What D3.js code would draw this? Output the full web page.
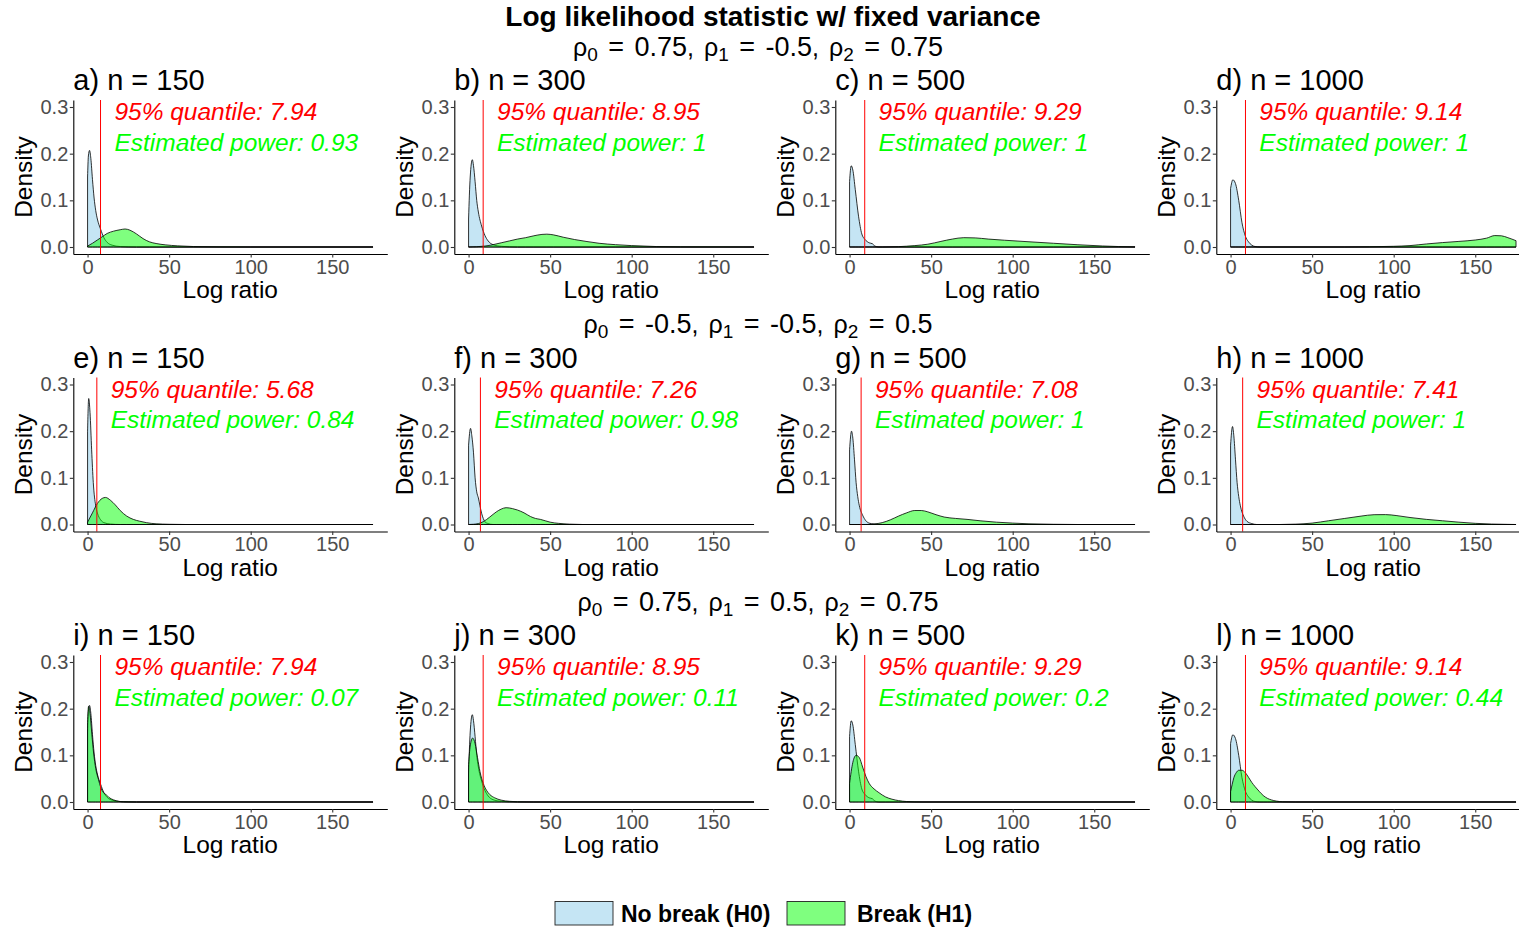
<!DOCTYPE html>
<html>
<head>
<meta charset="utf-8">
<script src="https://cdn.jsdelivr.net/npm/d3@7"></script>
<style>
  html, body { margin: 0; padding: 0; background: #ffffff; }
  svg { display: block; font-family: "Liberation Sans", Arial, Helvetica, sans-serif; }
</style>
</head>
<body>
<svg id="chart" width="1519" height="930"></svg>
<script>
// ---- Panel labels, thresholds and power estimates ----
const panelLabels = ["a) n = 150", "b) n = 300", "c) n = 500", "d) n = 1000",
                     "e) n = 150", "f) n = 300", "g) n = 500", "h) n = 1000",
                     "i) n = 150", "j) n = 300", "k) n = 500", "l) n = 1000"];
const quantiles = [7.94, 8.95, 9.29, 9.14, 5.68, 7.26, 7.08, 7.41, 7.94, 8.95, 9.29, 9.14];
const powers = [0.93, 1, 1, 1, 0.84, 0.98, 1, 1, 0.07, 0.11, 0.2, 0.44];
const rowRho = [["0.75", "-0.5", "0.75"], ["-0.5", "-0.5", "0.5"], ["0.75", "0.5", "0.75"]];
const xTicks = [0, 50, 100, 150];
const yTicks = [0, 0.1, 0.2, 0.3];
const legendLabels = ["No break (H0)", "Break (H1)"];

// ---- Density estimates: [log ratio, density] ----
// H0, rho = (0.75, -0.5, 0.75)
const h0_n150 = [[0,0.15],[0.5,0.195],[1.2,0.207],[2,0.19],[3,0.145],[4,0.105],[5,0.078],[6,0.06],[8,0.038],[10,0.02],[12,0.01],[15,0.004],[20,0.001],[30,0],[175,0]];
const h0_n300 = [[0,0.06],[1,0.15],[2.3,0.187],[3,0.175],[4,0.14],[5,0.1],[6,0.075],[8,0.045],[10,0.025],[12,0.013],[15,0.005],[20,0.0015],[30,0],[175,0]];
const h0_n500 = [[0,0.14],[1,0.174],[2,0.165],[3.5,0.123],[5.5,0.066],[7.5,0.028],[9.5,0.016],[12,0.009],[14,0.007],[15.5,0.002],[18,0],[175,0]];
const h0_n1000 = [[0,0.125],[1.4,0.144],[3,0.136],[5,0.1],[7,0.052],[9,0.024],[11,0.011],[13,0.004],[15,0.001],[18,0],[175,0]];
// H0, rho = (-0.5, -0.5, 0.5)
const h0b_n150 = [[0,0.2],[0.7,0.27],[1.5,0.24],[2.5,0.16],[3.5,0.09],[5,0.04],[6,0.025],[8,0.01],[10,0.004],[14,0.001],[20,0],[175,0]];
const h0b_n300 = [[0,0.17],[1.2,0.206],[2,0.19],[3,0.155],[4,0.1],[5,0.07],[6,0.057],[7,0.04],[8,0.024],[9,0.013],[10,0.006],[12,0.002],[15,0],[175,0]];
const h0b_n500 = [[0,0.16],[1.2,0.2],[2,0.185],[3,0.14],[4,0.09],[5,0.06],[6,0.04],[8,0.02],[10,0.008],[12,0.003],[15,0.001],[20,0],[175,0]];
const h0b_n1000 = [[0,0.17],[1.2,0.21],[2,0.19],[3,0.14],[4,0.09],[5,0.06],[6,0.04],[8,0.018],[10,0.007],[13,0.002],[16,0],[175,0]];

// H1, rho = (0.75, -0.5, 0.75)
const h1_n150 = [[0,0.002],[3,0.008],[6,0.015],[9,0.022],[12,0.029],[16,0.034],[20,0.037],[23,0.0386],[26,0.036],[30,0.028],[34,0.018],[38,0.011],[42,0.0075],[48,0.0045],[55,0.0025],[65,0.001],[80,0.0003],[100,0],[175,0]];
const h1_n300 = [[0,0],[10,0.002],[15,0.005],[20,0.009],[25,0.013],[30,0.017],[35,0.02],[40,0.024],[45,0.027],[48,0.0275],[52,0.026],[58,0.021],[65,0.016],[72,0.012],[80,0.008],[90,0.005],[100,0.003],[115,0.001],[130,0.0003],[175,0]];
const h1_n500 = [[0,0],[20,0],[30,0.0008],[40,0.003],[48,0.006],[56,0.012],[63,0.017],[70,0.02],[77,0.0195],[85,0.017],[95,0.0145],[110,0.0112],[125,0.008],[140,0.0048],[155,0.0022],[165,0.001],[175,0.0002]];
const h1_n1000 = [[0,0],[70,0],[85,0.0005],[100,0.0015],[110,0.003],[120,0.0065],[130,0.0095],[140,0.012],[150,0.015],[157,0.019],[162,0.0245],[166,0.024],[170,0.02],[175,0.0135]];
// H1, rho = (-0.5, -0.5, 0.5)
const h1b_n150 = [[0,0.005],[3,0.025],[6,0.045],[9,0.056],[11,0.058],[14,0.052],[17,0.042],[20,0.03],[24,0.018],[28,0.011],[32,0.007],[36,0.004],[42,0.0015],[50,0.0005],[60,0],[175,0]];
const h1b_n300 = [[0,0],[3,0.0005],[6,0.002],[9,0.006],[13,0.016],[17,0.027],[20,0.033],[23,0.036],[27,0.034],[30,0.031],[34,0.025],[38,0.017],[41,0.013],[44,0.011],[47,0.008],[50,0.005],[55,0.0025],[62,0.0008],[70,0],[175,0]];
const h1b_n500 = [[0,0],[10,0],[15,0.001],[20,0.004],[25,0.01],[30,0.018],[35,0.025],[40,0.03],[44,0.03],[48,0.027],[53,0.021],[58,0.016],[65,0.013],[72,0.011],[80,0.008],[90,0.005],[100,0.003],[110,0.0015],[125,0.0005],[140,0],[175,0]];
const h1b_n1000 = [[0,0],[30,0],[40,0.0008],[50,0.003],[60,0.008],[70,0.013],[80,0.018],[88,0.021],[95,0.0212],[102,0.019],[110,0.015],[120,0.011],[130,0.008],[140,0.005],[150,0.0025],[160,0.001],[170,0.0003],[175,0]];
// H1, rho = (0.75, 0.5, 0.75)
const h1c_n150 = [[0,0.17],[0.6,0.205],[1.5,0.19],[2.5,0.15],[3.7,0.105],[5,0.072],[6.7,0.048],[8,0.032],[9.8,0.02],[11,0.017],[13,0.01],[16,0.0045],[19,0.0015],[22,0.0003],[30,0],[175,0]];
const h1c_n300 = [[0,0.08],[1,0.12],[2.5,0.137],[4,0.125],[5.5,0.095],[7,0.065],[9,0.04],[11,0.025],[13,0.016],[16,0.009],[20,0.004],[25,0.0015],[30,0.0005],[40,0],[175,0]];
const h1c_n500 = [[0,0.04],[2,0.085],[4,0.1],[6,0.095],[8,0.075],[10,0.055],[12,0.04],[15,0.028],[18,0.02],[22,0.011],[26,0.006],[30,0.003],[35,0.001],[45,0],[175,0]];
const h1c_n1000 = [[0,0.022],[1,0.038],[2,0.052],[3.5,0.063],[5,0.068],[7,0.068],[9,0.063],[11,0.053],[13,0.042],[15,0.033],[17.5,0.023],[20,0.014],[22.5,0.008],[25,0.0045],[28,0.002],[32,0.0005],[40,0],[175,0]];

const h0Curves = [h0_n150, h0_n300, h0_n500, h0_n1000,
                  h0b_n150, h0b_n300, h0b_n500, h0b_n1000,
                  h0_n150, h0_n300, h0_n500, h0_n1000];
const h1Curves = [h1_n150, h1_n300, h1_n500, h1_n1000,
                  h1b_n150, h1b_n300, h1b_n500, h1b_n1000,
                  h1c_n150, h1c_n300, h1c_n500, h1c_n1000];

// ---- Layout ----
const svg = d3.select("#chart");
const colLeft = [73.3, 454.3, 835.3, 1216.3];
const rowTop = [100, 377.5, 655];
const panelW = 314, panelH = 154;
const xDomain = [-8.75, 183.75];
const yDomain = [-0.015, 0.315];
const centerX = 773;

const h0Fill = "#9fd3ec", h0Alpha = 0.6;
const h1Fill = "#00ff00", h1Alpha = 0.5;

// Main title
svg.append("text")
  .attr("x", centerX).attr("y", 25.5)
  .attr("text-anchor", "middle")
  .attr("font-size", 28).attr("font-weight", "bold")
  .text("Log likelihood statistic w/ fixed variance");

// Row headers with subscripted rho
function rowHeader(y, vals) {
  const t = svg.append("text")
    .attr("x", 758).attr("y", y)
    .attr("text-anchor", "middle")
    .attr("font-size", 27)
    .attr("word-spacing", 3);
  vals.forEach((v, i) => {
    t.append("tspan").attr("font-size", 25).text((i > 0 ? ", " : "") + "\u03C1");
    t.append("tspan").attr("font-size", 19).attr("dy", 5).text(String(i));
    t.append("tspan").attr("dy", -5).text(" = " + v);
  });
}

rowTop.forEach((top, r) => rowHeader(top - 44.5, rowRho[r]));

const area = d3.area().curve(d3.curveMonotoneX);

for (let k = 0; k < 12; k++) {
  const r = Math.floor(k / 4), c = k % 4;
  const left = colLeft[c], top = rowTop[r];
  const x = d3.scaleLinear().domain(xDomain).range([left, left + panelW]);
  const y = d3.scaleLinear().domain(yDomain).range([top + panelH, top]);
  const g = svg.append("g");

  area.x(d => x(d[0])).y0(y(0)).y1(d => y(d[1]));

  // densities: H0 beneath, H1 on top
  g.append("path").datum(h0Curves[k])
    .attr("d", area)
    .attr("fill", h0Fill).attr("fill-opacity", h0Alpha)
    .attr("stroke", "#000").attr("stroke-width", 0.8);
  g.append("path").datum(h1Curves[k])
    .attr("d", area)
    .attr("fill", h1Fill).attr("fill-opacity", h1Alpha)
    .attr("stroke", "#000").attr("stroke-width", 0.8);

  // 95% quantile of H0
  g.append("line")
    .attr("x1", x(quantiles[k])).attr("x2", x(quantiles[k]))
    .attr("y1", top).attr("y2", top + panelH)
    .attr("stroke", "#ff0000").attr("stroke-width", 1);

  // axes
  const xAxis = d3.axisBottom(x).tickValues(xTicks).tickSizeInner(3.5).tickSizeOuter(0).tickPadding(2);
  const yAxis = d3.axisLeft(y).tickValues(yTicks).tickFormat(d3.format(".1f")).tickSizeInner(3.5).tickSizeOuter(0).tickPadding(1.5);
  const gx = g.append("g").attr("transform", `translate(0,${top + panelH})`).call(xAxis);
  const gy = g.append("g").attr("transform", `translate(${left},0)`).call(yAxis);
  [gx, gy].forEach(ax => {
    ax.select(".domain").attr("stroke", "#000").attr("stroke-width", 1.1);
    ax.selectAll(".tick line").attr("stroke", "#333").attr("stroke-width", 1.1);
    ax.selectAll(".tick text").attr("fill", "#4d4d4d").attr("font-size", 20)
      .attr("font-family", "Liberation Sans, Arial, sans-serif");
  });

  // axis titles
  g.append("text")
    .attr("x", left + panelW / 2).attr("y", top + panelH + 44)
    .attr("text-anchor", "middle").attr("font-size", 24.5)
    .text("Log ratio");
  g.append("text")
    .attr("transform", `translate(${left - 41},${top + panelH / 2}) rotate(-90)`)
    .attr("text-anchor", "middle").attr("font-size", 24.5)
    .text("Density");

  // panel title
  g.append("text")
    .attr("x", left).attr("y", top - 10)
    .attr("font-size", 29)
    .text(panelLabels[k]);

  // annotations
  g.append("text")
    .attr("x", x(quantiles[k] + 8.5)).attr("y", y(0.29)).attr("dy", "0.35em")
    .attr("font-size", 24.5).attr("font-style", "italic").attr("fill", "#ff0000")
    .text("95% quantile: " + quantiles[k].toFixed(2));
  g.append("text")
    .attr("x", x(quantiles[k] + 8.5)).attr("y", y(0.225)).attr("dy", "0.35em")
    .attr("font-size", 24.5).attr("font-style", "italic").attr("fill", "#00ff00")
    .text("Estimated power: " + String(powers[k]));
}

// ---- Legend ----
const legendItems = [
  { label: legendLabels[0], fill: h0Fill, alpha: h0Alpha, x: 555, tx: 621 },
  { label: legendLabels[1], fill: h1Fill, alpha: h1Alpha, x: 787, tx: 857 }
];
legendItems.forEach(it => {
  svg.append("rect")
    .attr("x", it.x).attr("y", 901.5).attr("width", 58).attr("height", 23.5)
    .attr("fill", it.fill).attr("fill-opacity", it.alpha)
    .attr("stroke", "#222").attr("stroke-width", 0.9);
  svg.append("text")
    .attr("x", it.tx).attr("y", 922)
    .attr("font-size", 23).attr("font-weight", "bold")
    .text(it.label);
});
</script>
</body>
</html>
